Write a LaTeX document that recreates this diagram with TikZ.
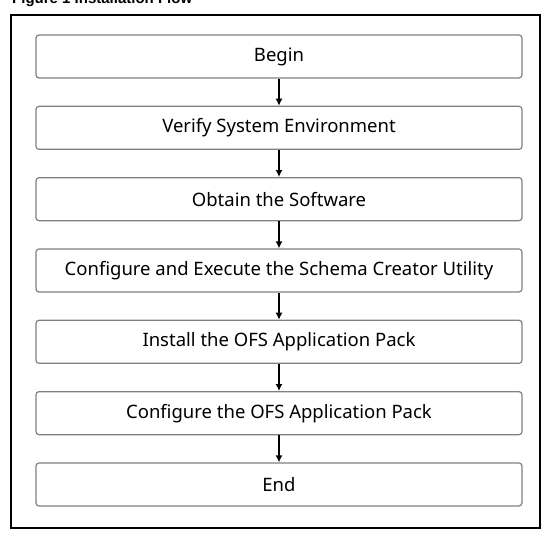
\documentclass[tikz,border=0pt]{standalone}
\usepackage{fontspec}
\setmainfont{Noto Sans}
\newfontfamily\captionfont{Liberation Sans}
\usetikzlibrary{arrows.meta}
\usetikzlibrary{positioning}

\begin{document}
\begin{tikzpicture}[x=1pt,y=-1pt,
    stepbox/.style={draw=black!50,line width=1.2pt,rounded corners=3pt,minimum width=486pt,minimum height=43pt,font=\fontsize{18.5}{22}\selectfont,inner sep=0pt},
    flow/.style={-{Latex[length=7pt,width=7pt]},line width=1.6pt}]
        \useasboundingbox (0,0) rectangle (554,537);
        \begin{scope}
            \clip (0,0) rectangle (554,537);
            \node [anchor=base west,inner sep=0pt,font=\captionfont\bfseries\fontsize{15}{17}\selectfont] (title) at (12,4) {Figure 1 Installation Flow};
        \end{scope}
        \draw [line width=2pt] (11,15) rectangle (540,528);

        \def\gap{71.33}
        \node [stepbox] (begin) at (279,56.5) {Begin};
        \node [stepbox] (verify) at (279,{56.5+\gap}) {Verify System Environment};
        \node [stepbox] (obtain) at (279,{56.5+2*\gap}) {Obtain the Software};
        \node [stepbox] (schema) at (279,{56.5+3*\gap}) {Configure and Execute the Schema Creator Utility};
        \node [stepbox] (install) at (279,{56.5+4*\gap}) {Install the OFS Application Pack};
        \node [stepbox] (config) at (279,{56.5+5*\gap}) {Configure the OFS Application Pack};
        \node [stepbox] (end) at (279,{56.5+6*\gap}) {End};

        \foreach \a/\b in {begin/verify,verify/obtain,obtain/schema,schema/install,install/config,config/end}
            \draw [flow] (\a) -- (\b);
    \end{tikzpicture}
\end{document}
